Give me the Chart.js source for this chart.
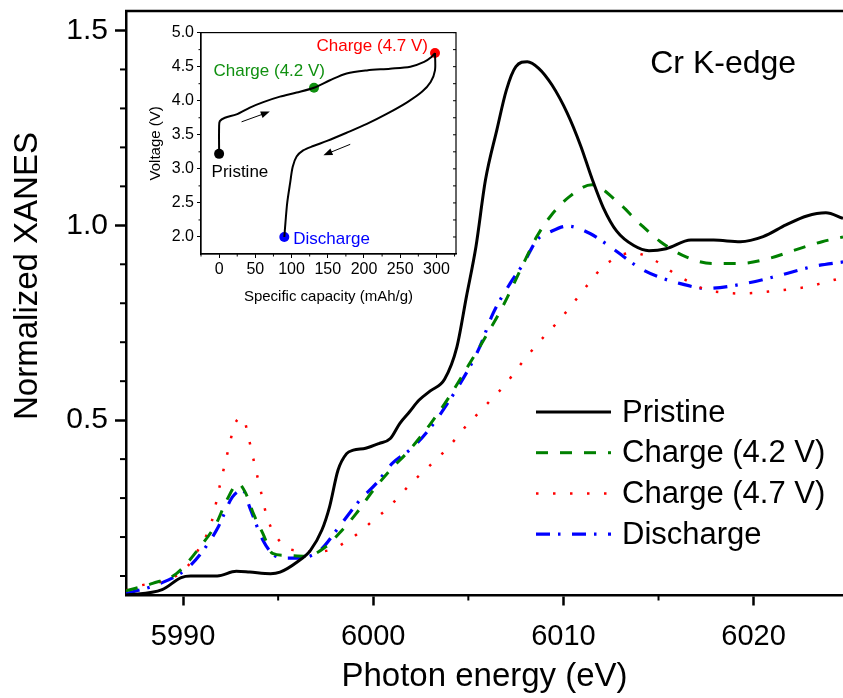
<!DOCTYPE html>
<html>
<head>
<meta charset="utf-8">
<script src="https://cdn.jsdelivr.net/npm/chart.js@4.4.0/dist/chart.umd.min.js"></script>
<style>
  html, body { margin: 0; padding: 0; background: #fff; }
  #wrap { position: relative; width: 843px; height: 698px; overflow: hidden; }
  #mainChart { position: absolute; left: 0; top: 0; width: 843px; height: 698px; }
  #insetChart { position: absolute; left: 140px; top: 20px; width: 325px; height: 290px; }
</style>
</head>
<body>
<div id="wrap">
  <canvas id="mainChart" width="843" height="698"></canvas>
  <canvas id="insetChart" width="325" height="290"></canvas>
</div>
<script>
// ---- main XANES data ----
const seriesNames = ['Pristine', 'Charge (4.2 V)', 'Charge (4.7 V)', 'Discharge'];

const pristineE = [5987.0, 5988.9, 5989.9, 5990.4, 5991.8, 5992.8, 5993.5, 5994.6, 5995.1, 5996.0, 5996.7, 5997.3, 5997.7, 5998.15, 5998.6, 5998.95, 5999.6, 6000.3, 6000.9, 6001.4, 6001.9, 6002.4, 6003.0, 6003.75, 6004.4, 6004.9, 6005.4, 6005.9, 6006.5, 6007.0, 6007.5, 6008.1, 6008.7, 6009.4, 6010.2, 6010.9, 6011.5, 6012.1, 6012.8, 6013.7, 6014.5, 6015.4, 6016.7, 6017.9, 6019.3, 6020.5, 6021.7, 6022.8, 6023.8, 6024.7];
const pristineY = [0.051, 0.065, 0.096, 0.100, 0.100, 0.112, 0.110, 0.106, 0.110, 0.136, 0.166, 0.218, 0.277, 0.372, 0.414, 0.423, 0.428, 0.440, 0.453, 0.492, 0.521, 0.551, 0.575, 0.605, 0.688, 0.817, 0.945, 1.116, 1.245, 1.347, 1.407, 1.420, 1.403, 1.360, 1.288, 1.205, 1.120, 1.045, 0.985, 0.948, 0.935, 0.940, 0.962, 0.962, 0.958, 0.971, 1.001, 1.024, 1.032, 1.018];

const charge42E = [5987.0, 5988.4, 5989.65, 5990.9, 5991.75, 5992.3, 5992.9, 5993.3, 5993.7, 5994.2, 5994.7, 5995.4, 5996.5, 5997.5, 5998.2, 5999.1, 6000.0, 6000.9, 6001.9, 6003.0, 6004.0, 6005.0, 6005.8, 6006.8, 6007.9, 6008.6, 6009.3, 6010.3, 6011.5, 6012.8, 6014.0, 6015.1, 6016.45, 6017.85, 6019.25, 6020.8, 6022.2, 6023.6, 6024.7];
const charge42Y = [0.062, 0.081, 0.106, 0.175, 0.235, 0.295, 0.337, 0.312, 0.260, 0.209, 0.158, 0.153, 0.151, 0.175, 0.209, 0.260, 0.320, 0.372, 0.423, 0.490, 0.560, 0.640, 0.705, 0.791, 0.902, 0.971, 1.022, 1.073, 1.104, 1.062, 1.005, 0.958, 0.919, 0.902, 0.902, 0.915, 0.937, 0.958, 0.970];

const charge47E = [5987.0, 5987.8, 5988.8, 5989.55, 5990.2, 5990.7, 5991.5, 5991.9, 5992.3, 5992.5, 5992.75, 5993.15, 5993.4, 5993.6, 5993.8, 5994.0, 5994.2, 5994.4, 5995.2, 5996.1, 5996.9, 5997.8, 5998.6, 5999.3, 6000.0, 6000.7, 6001.3, 6001.95, 6002.9, 6003.8, 6004.4, 6005.0, 6005.6, 6006.2, 6006.85, 6007.7, 6008.5, 6009.1, 6009.7, 6010.3, 6010.85, 6011.4, 6012.0, 6012.7, 6013.6, 6014.45, 6015.2, 6015.9, 6016.7, 6017.5, 6018.4, 6019.25, 6020.2, 6021.0, 6021.9, 6022.8, 6023.7, 6024.7];
const charge47Y = [0.063, 0.076, 0.085, 0.098, 0.123, 0.159, 0.239, 0.325, 0.408, 0.450, 0.493, 0.506, 0.466, 0.421, 0.379, 0.336, 0.295, 0.253, 0.183, 0.164, 0.162, 0.168, 0.189, 0.213, 0.243, 0.271, 0.301, 0.336, 0.380, 0.423, 0.456, 0.492, 0.521, 0.553, 0.586, 0.640, 0.688, 0.721, 0.752, 0.787, 0.821, 0.855, 0.890, 0.915, 0.930, 0.919, 0.898, 0.874, 0.853, 0.834, 0.828, 0.825, 0.827, 0.831, 0.836, 0.842, 0.853, 0.866];

const dischargeE = [5987.0, 5988.8, 5990.2, 5991.2, 5991.85, 5992.6, 5993.15, 5993.5, 5994.2, 5994.8, 5995.4, 5996.1, 5997.2, 5998.2, 5999.3, 6000.15, 6001.0, 6002.1, 6003.0, 6004.0, 6005.0, 6005.6, 6006.3, 6007.2, 6007.9, 6008.6, 6009.3, 6010.2, 6011.4, 6012.6, 6014.1, 6015.1, 6016.1, 6017.5, 6019.6, 6021.4, 6023.1, 6024.7];
const dischargeY = [0.055, 0.081, 0.119, 0.175, 0.226, 0.303, 0.320, 0.277, 0.192, 0.153, 0.146, 0.146, 0.166, 0.226, 0.295, 0.337, 0.389, 0.431, 0.480, 0.550, 0.630, 0.688, 0.774, 0.851, 0.902, 0.962, 0.983, 0.998, 0.979, 0.940, 0.888, 0.866, 0.851, 0.838, 0.851, 0.872, 0.894, 0.906];

const xTicks = [5990, 6000, 6010, 6020];
const xMinorTicks = [5995, 6005, 6015];
const yTicks = [0.5, 1.0, 1.5];
const yMinorTicks = [0.1, 0.2, 0.3, 0.4, 0.6, 0.7, 0.8, 0.9, 1.1, 1.2, 1.3, 1.4];

// ---- inset: voltage profile ----
const chargeCap = [0, 0, 1, 8, 24, 42.5, 61, 84, 107, 131, 153, 176, 204, 236, 264, 283, 294, 298];
const chargeV = [3.22, 3.62, 3.70, 3.75, 3.80, 3.90, 3.98, 4.06, 4.12, 4.19, 4.30, 4.40, 4.445, 4.47, 4.50, 4.57, 4.65, 4.70];
const dischargeCap = [298, 298, 292, 280, 260, 232, 204, 176, 149, 130, 116, 107, 101.6, 98, 94, 91.5, 90];
const dischargeV = [4.70, 4.445, 4.275, 4.13, 3.98, 3.81, 3.66, 3.53, 3.41, 3.335, 3.27, 3.18, 3.03, 2.79, 2.50, 2.20, 2.00];

const markerCap = [0, 131, 298, 90];
const markerV = [3.22, 4.19, 4.70, 2.00];
const markerLabels = ['Pristine', 'Charge (4.2 V)', 'Charge (4.7 V)', 'Discharge'];
const markerColors = ['#000000', '#109010', '#ff0000', '#0000ff'];

const capTicks = [0, 50, 100, 150, 200, 250, 300];
const capMinorTicks = [-25, 25, 75, 125, 175, 225, 275, 325];
const vTicks = [2.0, 2.5, 3.0, 3.5, 4.0, 4.5, 5.0];
const vMinorTicks = [2.25, 2.75, 3.25, 3.75, 4.25, 4.75];

// arrows: [fromCap, fromV, toCap, toV]
const arrows = [[31, 3.69, 70, 3.84], [181, 3.36, 144, 3.20]];

const FONT = "'Liberation Sans', Arial, sans-serif";

function pts(xs, ys) {
    return xs.map((x, i) => ({ x: x, y: ys[i] }));
}

const mainDecor = {
    id: 'mainDecor',
    afterDraw(chart) {
        const ctx = chart.ctx;
        const area = chart.chartArea;
        const xs = chart.scales.x, ys = chart.scales.y;
        ctx.save();
        ctx.strokeStyle = '#000';
        ctx.lineWidth = 2.5;
        // top spine
        ctx.beginPath();
        ctx.moveTo(area.left - 1, area.top);
        ctx.lineTo(area.right, area.top);
        ctx.stroke();
        // minor ticks
        ctx.lineWidth = 2;
        xMinorTicks.forEach(v => {
            const px = xs.getPixelForValue(v);
            ctx.beginPath();
            ctx.moveTo(px, area.bottom);
            ctx.lineTo(px, area.bottom + 5);
            ctx.stroke();
        });
        yMinorTicks.forEach(v => {
            const py = ys.getPixelForValue(v);
            ctx.beginPath();
            ctx.moveTo(area.left, py);
            ctx.lineTo(area.left - 6, py);
            ctx.stroke();
        });
        // y title
        ctx.fillStyle = '#000';
        ctx.font = '33px ' + FONT;
        ctx.textAlign = 'center';
        ctx.textBaseline = 'middle';
        ctx.translate(28, 276);
        ctx.rotate(-Math.PI / 2);
        ctx.fillText('Normalized XANES', 0, 0);
        ctx.restore();

        ctx.save();
        ctx.fillStyle = '#000';
        ctx.font = '32px ' + FONT;
        ctx.textAlign = 'center';
        ctx.textBaseline = 'middle';
        ctx.fillText('Cr K-edge', xs.getPixelForValue(6018.4), ys.getPixelForValue(1.414));

        // legend
        ctx.font = '31px ' + FONT;
        ctx.textAlign = 'left';
        chart.data.datasets.forEach((ds, i) => {
            const y = 412 + i * 40.7;
            ctx.strokeStyle = ds.borderColor;
            ctx.lineWidth = ds.borderWidth;
            ctx.setLineDash(ds.borderDash || []);
            ctx.beginPath();
            ctx.moveTo(536, y);
            ctx.lineTo(611, y);
            ctx.stroke();
            ctx.setLineDash([]);
            ctx.fillStyle = '#000';
            ctx.fillText(ds.label, 622, y + 1);
        });
        ctx.restore();
    }
};

new Chart(document.getElementById('mainChart'), {
    type: 'line',
    data: {
        datasets: [
            { label: seriesNames[0], data: pts(pristineE, pristineY), borderColor: '#000000', borderWidth: 3, borderDash: [] },
            { label: seriesNames[1], data: pts(charge42E, charge42Y), borderColor: '#008000', borderWidth: 3, borderDash: [12, 12] },
            { label: seriesNames[2], data: pts(charge47E, charge47Y), borderColor: '#ff0000', borderWidth: 2.5, borderDash: [2.5, 14.5] },
            { label: seriesNames[3], data: pts(dischargeE, dischargeY), borderColor: '#0000ff', borderWidth: 3.2, borderDash: [14, 8, 2.5, 11.5] }
        ]
    },
    options: {
        responsive: false,
        animation: false,
        layout: { padding: { top: 11, right: 0, left: 0, bottom: 0 } },
        elements: {
            point: { radius: 0 },
            line: { cubicInterpolationMode: 'monotone', fill: false }
        },
        plugins: { legend: { display: false }, tooltip: { enabled: false } },
        scales: {
            x: {
                type: 'linear', min: 5987, max: 6024.7,
                afterBuildTicks: s => { s.ticks = xTicks.map(v => ({ value: v })); },
                afterFit: s => { s.height = 102.5; s.paddingLeft = 0; s.paddingRight = 0; },
                grid: { drawOnChartArea: false, tickLength: 10, tickWidth: 2.5, tickColor: '#000' },
                border: { color: '#000', width: 2.5 },
                ticks: { color: '#000', font: { family: FONT, size: 29 }, padding: 14, maxRotation: 0, autoSkip: false, callback: v => String(v) },
                title: { display: true, text: 'Photon energy (eV)', color: '#000', font: { family: FONT, size: 33 }, padding: { top: 0, bottom: 1 } }
            },
            y: {
                type: 'linear', min: 0.05, max: 1.55,
                afterBuildTicks: s => { s.ticks = yTicks.map(v => ({ value: v })); },
                afterFit: s => { s.width = 126; s.paddingTop = 0; s.paddingBottom = 0; },
                grid: { drawOnChartArea: false, tickLength: 11, tickWidth: 2.5, tickColor: '#000' },
                border: { color: '#000', width: 2.5 },
                ticks: { color: '#000', font: { family: FONT, size: 30 }, padding: 7, autoSkip: false, callback: v => v.toFixed(1) }
            }
        }
    },
    plugins: [mainDecor]
});

const insetDecor = {
    id: 'insetDecor',
    afterDraw(chart) {
        const ctx = chart.ctx;
        const area = chart.chartArea;
        const xs = chart.scales.x, ys = chart.scales.y;
        ctx.save();
        ctx.strokeStyle = '#000';
        ctx.lineWidth = 1.2;
        ctx.strokeRect(area.left, area.top, area.right - area.left, area.bottom - area.top);
        ctx.lineWidth = 1;
        capMinorTicks.forEach(v => {
            const px = xs.getPixelForValue(v);
            ctx.beginPath();
            ctx.moveTo(px, area.bottom);
            ctx.lineTo(px, area.bottom + 2.5);
            ctx.stroke();
        });
        vMinorTicks.forEach(v => {
            const py = ys.getPixelForValue(v);
            ctx.beginPath();
            ctx.moveTo(area.left, py);
            ctx.lineTo(area.left - 2.5, py);
            ctx.stroke();
        });
        vTicks.concat(vMinorTicks).forEach(v => {
            const py = ys.getPixelForValue(v);
            ctx.beginPath();
            ctx.moveTo(area.right, py);
            ctx.lineTo(area.right - 3, py);
            ctx.stroke();
        });
        // arrows
        ctx.fillStyle = '#000';
        arrows.forEach(a => {
            const x1 = xs.getPixelForValue(a[0]), y1 = ys.getPixelForValue(a[1]);
            const x2 = xs.getPixelForValue(a[2]), y2 = ys.getPixelForValue(a[3]);
            const ang = Math.atan2(y2 - y1, x2 - x1);
            ctx.beginPath();
            ctx.moveTo(x1, y1);
            ctx.lineTo(x2 - 5 * Math.cos(ang), y2 - 5 * Math.sin(ang));
            ctx.stroke();
            ctx.beginPath();
            ctx.moveTo(x2, y2);
            ctx.lineTo(x2 - 9 * Math.cos(ang) + 3.5 * Math.sin(ang), y2 - 9 * Math.sin(ang) - 3.5 * Math.cos(ang));
            ctx.lineTo(x2 - 9 * Math.cos(ang) - 3.5 * Math.sin(ang), y2 - 9 * Math.sin(ang) + 3.5 * Math.cos(ang));
            ctx.closePath();
            ctx.fill();
        });
        // marker labels
        ctx.font = '17px ' + FONT;
        ctx.textBaseline = 'middle';
        const offs = [[-7.5, 18.5, 'left'], [11, -16, 'right'], [-7, -7, 'right'], [9, 2, 'left']];
        markerLabels.forEach((t, i) => {
            const px = xs.getPixelForValue(markerCap[i]), py = ys.getPixelForValue(markerV[i]);
            ctx.fillStyle = markerColors[i];
            ctx.textAlign = offs[i][2];
            ctx.fillText(t, px + offs[i][0], py + offs[i][1]);
        });
        ctx.restore();
    }
};

new Chart(document.getElementById('insetChart'), {
    type: 'line',
    data: {
        datasets: [
            { data: pts(chargeCap, chargeV), borderColor: '#000', borderWidth: 2, tension: 0.3, pointRadius: 0 },
            { data: pts(dischargeCap, dischargeV), borderColor: '#000', borderWidth: 2, tension: 0.3, pointRadius: 0 },
            { data: pts(markerCap, markerV), showLine: false, pointRadius: 5, pointBorderWidth: 0, pointBackgroundColor: markerColors, pointBorderColor: markerColors }
        ]
    },
    options: {
        responsive: false,
        animation: false,
        layout: { padding: { top: 12, right: 9, left: 0, bottom: 0 } },
        plugins: { legend: { display: false }, tooltip: { enabled: false } },
        scales: {
            x: {
                type: 'linear', min: -25, max: 327,
                afterBuildTicks: s => { s.ticks = capTicks.map(v => ({ value: v })); },
                afterFit: s => { s.height = 56; },
                grid: { drawOnChartArea: false, tickLength: 4, tickWidth: 1, tickColor: '#000' },
                border: { color: '#000', width: 1.2 },
                ticks: { color: '#000', font: { family: FONT, size: 16 }, padding: 2, maxRotation: 0, autoSkip: false, callback: v => String(v) },
                title: { display: true, text: 'Specific capacity (mAh/g)', color: '#000', font: { family: FONT, size: 15 }, padding: { top: 0, bottom: 4 } }
            },
            y: {
                type: 'linear', min: 1.75, max: 5.0,
                afterBuildTicks: s => { s.ticks = vTicks.map(v => ({ value: v })); },
                afterFit: s => { s.width = 61; },
                grid: { drawOnChartArea: false, tickLength: 4, tickWidth: 1, tickColor: '#000' },
                border: { color: '#000', width: 1.2 },
                ticks: { color: '#000', font: { family: FONT, size: 16 }, padding: 3, autoSkip: false, callback: v => v.toFixed(1) },
                title: { display: true, text: 'Voltage (V)', color: '#000', font: { family: FONT, size: 15 }, padding: { top: 7, bottom: 0 } }
            }
        }
    },
    plugins: [insetDecor]
});
</script>
</body>
</html>
